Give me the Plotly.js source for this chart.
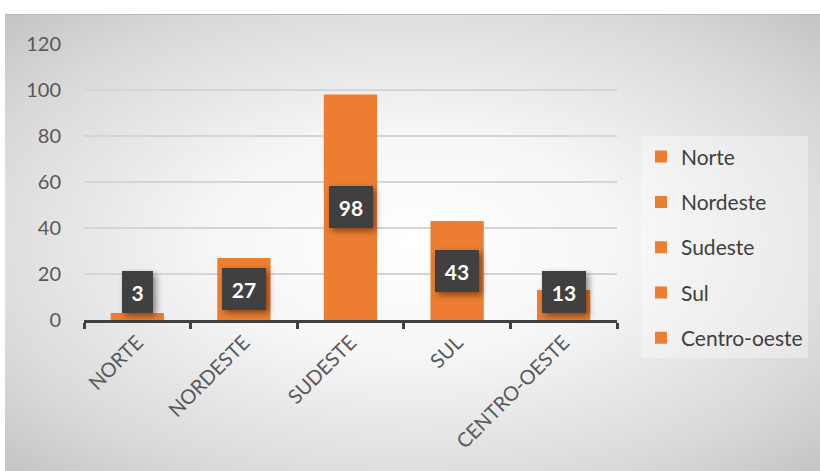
<!DOCTYPE html>
<html>
<head>
<meta charset="utf-8">
<script src="https://cdn.plot.ly/plotly-3.0.1.min.js"></script>
<style>
html,body{margin:0;padding:0;background:#ffffff;}
#wrap{position:relative;width:820px;height:471px;overflow:hidden;}
#card{position:absolute;left:5px;top:14px;width:815px;height:457px;
  background:radial-gradient(ellipse at 50% 50%, #ffffff 0%, #f6f6f6 35%, #d9d9d9 78%, #c4c4c4 100%);
  border-top:1px solid #b8b8b8;}
#chart{position:absolute;left:0;top:0;width:820px;height:471px;}
.annotation rect{filter:drop-shadow(3px 3px 3px rgba(0,0,0,0.45));}
</style>
</head>
<body>
<div id="wrap"><div id="card"></div><div id="chart"></div></div>
<script>
const categories = ["NORTE", "NORDESTE", "SUDESTE", "SUL", "CENTRO-OESTE"];
const legendNames = ["Norte", "Nordeste", "Sudeste", "Sul", "Centro-oeste"];
const values = [3, 27, 98, 43, 13];
const yTicks = [0, 20, 40, 60, 80, 100, 120];

const orange = "#ED7D31";
const textGray = "#595959";

const traces = categories.map((c, i) => ({
  type: "bar",
  x: [c],
  y: [values[i]],
  name: legendNames[i],
  legendgroup: "g" + i,
  width: 0.5,
  marker: {color: orange},
  hoverinfo: "x+y"
}));

const annotations = categories.map((c, i) => {
  const s = String(values[i]);
  return {
    x: c, y: Math.max(values[i] / 2, 12), xref: "x", yref: "y",
    text: "<b>" + s + "</b>", showarrow: false,
    font: {family: "Lato, 'Open Sans', sans-serif", size: 21, color: "#ffffff"},
    bgcolor: "#404040", borderpad: 0, borderwidth: 0,
    width: 18 + 13 * s.length, height: 42,
    xanchor: "center", yanchor: "middle"
  };
});

const layout = {
  width: 820, height: 471,
  margin: {l: 84, r: 203, t: 44, b: 151},
  paper_bgcolor: "rgba(0,0,0,0)",
  plot_bgcolor: "rgba(0,0,0,0)",
  font: {family: "Lato, 'Open Sans', sans-serif", color: textGray},
  barmode: "overlay",
  showlegend: true,
  legend: {
    x: 1.045, xanchor: "left", y: 0.665, yanchor: "top",
    bgcolor: "rgba(255,255,255,0.35)",
    font: {size: 21, color: "#404040"},
    tracegroupgap: 15,
    itemwidth: 30,
    traceorder: "grouped"
  },
  xaxis: {
    type: "category",
    categoryorder: "array", categoryarray: categories,
    tickangle: -45,
    tickfont: {size: 20, color: textGray},
    showline: true, linecolor: "#404040", linewidth: 3,
    ticks: "outside", tickson: "boundaries", ticklen: 6, tickwidth: 3, tickcolor: "#404040",
    showgrid: false, zeroline: false,
    range: [-0.5, 4.5]
  },
  yaxis: {
    range: [0, 120],
    tickvals: yTicks,
    ticktext: yTicks.map(String),
    tickfont: {size: 20, color: textGray},
    showgrid: true, gridcolor: "#d4d4d4", gridwidth: 1.5,
    zeroline: false, showline: false, ticks: "",
    ticklabelstandoff: 22
  },
  annotations: annotations
};

Plotly.newPlot("chart", traces, layout, {displayModeBar: false, staticPlot: true});
</script>
</body>
</html>
